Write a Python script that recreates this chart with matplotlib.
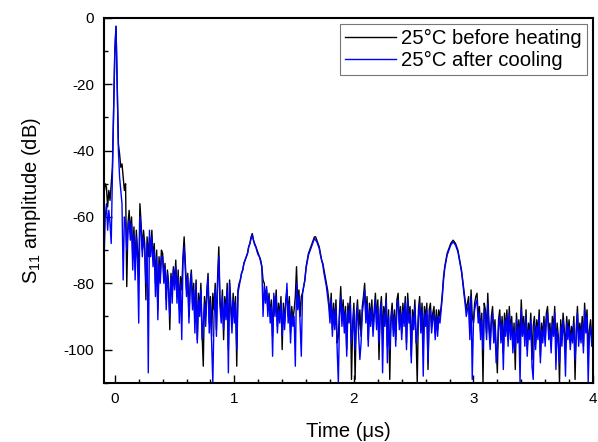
import numpy as np
import matplotlib
matplotlib.use("Agg")
import matplotlib.pyplot as plt
from matplotlib.ticker import MultipleLocator

plt.rcParams['font.family'] = ['Liberation Sans', 'DejaVu Sans']
plt.rcParams['mathtext.fontset'] = 'custom'
plt.rcParams['mathtext.rm'] = 'Liberation Sans'
plt.rcParams['mathtext.it'] = 'Liberation Sans:italic'
plt.rcParams['axes.unicode_minus'] = False

# sampling grid of the time axis (us)
t_start = -0.09
t_step = 0.01

labels = ["25°C before heating", "25°C after cooling"]

# S11 amplitude (dB), 25 C before heating
before_heating = [
    -53, -50, -51, -57, -52, -55, -50, -45, -28,                 # -0.09..-0.01
    -10, -2.5, -20, -38, -41, -45, -44, -48, -52, -50,            # 0.00
    -81, -62, -58, -65, -60, -72, -63, -75, -64, -70,             # 0.10
    -78, -56, -62, -70, -64, -68, -85, -66, -72, -66,             # 0.20
    -70, -64, -73, -68, -80, -70, -88, -72, -78, -70,             # 0.30
    -71, -78, -74, -85, -76, -80, -94, -77, -82, -75,             # 0.40
    -80, -73, -84, -76, -88, -78, -82, -72, -66, -74,             # 0.50
    -82, -77, -90, -80, -76, -86, -80, -92, -79, -97,             # 0.60
    -83, -88, -80, -95, -105, -84, -90, -82, -77, -92,            # 0.70
    -84, -96, -83, -88, -80, -94, -78, -69, -85, -90,             # 0.80
    -82, -97, -84, -89, -80, -100, -79, -86, -92, -83,            # 0.90
    -90, -84, -105, -82, -80, -79, -77, -76, -74, -73,            # 1.00
    -72, -71, -69, -68, -66, -65, -67, -68, -69, -70,             # 1.10
    -71, -72, -73, -75, -79, -80, -84, -82, -88, -83,             # 1.20
    -90, -85, -96, -84, -88, -82, -93, -86, -90, -84,             # 1.30
    -100, -86, -92, -85, -82, -90, -84, -95, -87, -91,            # 1.40
    -88, -84, -75, -86, -82, -90, -84, -83, -81, -79,             # 1.50
    -75, -73, -71, -70, -69, -68, -67, -66, -66, -67,             # 1.60
    -68, -69, -71, -73, -74, -76, -78, -80, -82, -85,             # 1.70
    -90, -83, -94, -86, -92, -85, -98, -96, -88, -81,             # 1.80
    -91, -85, -93, -87, -100, -86, -90, -84, -109, -92,           # 1.90
    -86, -109, -90, -85, -94, -88, -96, -87, -84, -80,            # 2.00
    -90, -84, -97, -86, -91, -85, -94, -88, -83, -92,             # 2.10
    -85, -103, -88, -84, -96, -87, -91, -83, -99, -88,            # 2.20
    -109, -90, -86, -94, -88, -97, -85, -83, -92, -87,            # 2.30
    -95, -86, -91, -84, -98, -83, -90, -87, -102, -88,            # 2.40
    -92, -85, -96, -110, -88, -84, -93, -86, -99, -87,            # 2.50
    -91, -86, -106, -88, -86, -93, -89, -87, -95, -88,            # 2.60
    -94, -88, -90, -87, -83, -78, -75, -73, -71, -70,             # 2.70
    -69, -68, -67.5, -67, -67.5, -68, -69, -70, -72, -74,         # 2.80
    -76, -79, -82, -85, -88, -86, -84, -95, -82, -90,             # 2.90
    -92, -86, -84, -83, -90, -87, -95, -89, -110, -86,            # 3.00
    -88, -95, -83, -92, -98, -90, -87, -96, -91, -99,             # 3.10
    -107, -91, -88, -96, -90, -101, -89, -94, -88, -97,           # 3.20
    -87, -95, -90, -99, -92, -106, -89, -96, -91, -98,            # 3.30
    -85, -94, -90, -97, -88, -100, -92, -95, -89, -103,           # 3.40
    -93, -90, -98, -91, -95, -88, -102, -92, -96, -90,            # 3.50
    -97, -89, -87, -95, -92, -99, -90, -94, -87, -100,            # 3.60
    -92, -96, -110, -91, -97, -89, -94, -100, -90, -95,           # 3.70
    -91, -98, -93, -96, -90, -109, -94, -87, -97, -92,            # 3.80
    -96, -90, -99, -86, -93, -88, -100, -94, -91, -97,            # 3.90
    -94,                                                          # 4.00
]

# S11 amplitude (dB), 25 C after cooling
after_cooling = [
    -73, -60, -56, -64, -58, -62, -68, -47, -28,                 # -0.09..-0.01
    -10, -2.5, -20, -40, -48, -52, -56, -79, -60, -62,            # 0.00
    -70, -64, -61, -67, -62, -76, -65, -79, -66, -73,             # 0.10
    -92, -60, -64, -72, -66, -70, -80, -68, -107, -64,            # 0.20
    -72, -66, -75, -70, -84, -72, -91, -74, -80, -72,             # 0.30
    -72, -80, -75, -88, -77, -82, -90, -78, -86, -76,             # 0.40
    -82, -75, -86, -78, -92, -80, -97, -74, -69, -76,             # 0.50
    -84, -78, -92, -82, -77, -88, -82, -95, -80, -98,             # 0.60
    -85, -90, -82, -97, -92, -86, -93, -84, -78, -95,             # 0.70
    -86, -98, -110, -90, -82, -96, -80, -72, -87, -92,            # 0.80
    -84, -94, -86, -91, -82, -107, -80, -88, -95, -85,            # 0.90
    -92, -86, -100, -83, -81, -79, -77, -76, -74, -73,            # 1.00
    -72, -71, -69, -68, -66.5, -65.5, -67, -68.5, -69, -70.5,     # 1.10
    -71.5, -72, -73.5, -75, -90, -81, -86, -81, -90, -84,         # 1.20
    -92, -87, -102, -83, -90, -84, -95, -88, -92, -86,            # 1.30
    -96, -88, -94, -87, -80, -92, -86, -98, -89, -93,             # 1.40
    -90, -105, -80, -88, -84, -92, -102, -83, -81, -79,           # 1.50
    -75.5, -73.5, -71.5, -70.5, -69.5, -68.5, -67.5, -66.5, -67, -67.5,  # 1.60
    -68.5, -69.5, -71.5, -73, -74.5, -77, -79, -81, -84, -87,     # 1.70
    -92, -85, -96, -88, -94, -87, -100, -110, -90, -84,           # 1.80
    -93, -87, -95, -89, -102, -88, -92, -86, -98, -94,            # 1.90
    -88, -100, -92, -87, -96, -103, -98, -89, -86, -82,           # 2.00
    -92, -86, -99, -88, -93, -87, -96, -90, -85, -94,             # 2.10
    -87, -98, -90, -86, -107, -89, -93, -85, -104, -90,           # 2.20
    -100, -92, -88, -96, -90, -99, -87, -85, -94, -89,            # 2.30
    -97, -88, -93, -86, -100, -85, -92, -89, -104, -90,           # 2.40
    -94, -87, -98, -95, -90, -86, -95, -88, -108, -89,            # 2.50
    -93, -88, -104, -90, -88, -95, -91, -89, -97, -90,            # 2.60
    -96, -90, -92, -88, -84, -79, -75.5, -73.5, -71.5, -70.5,     # 2.70
    -69.5, -68.5, -68, -67.5, -68, -68.5, -69.5, -70.5, -72.5, -74.5,  # 2.80
    -76.5, -79.5, -83, -86, -90, -88, -86, -97, -84, -109,        # 2.90
    -92, -88, -86, -85, -92, -89, -97, -91, -100, -88,            # 3.00
    -90, -97, -86, -94, -100, -92, -89, -98, -93, -104,           # 3.10
    -100, -93, -90, -98, -92, -106, -91, -96, -90, -99,           # 3.20
    -89, -97, -92, -101, -94, -100, -91, -98, -93, -110,          # 3.30
    -88, -96, -92, -99, -90, -102, -94, -97, -91, -105,           # 3.40
    -109, -92, -100, -93, -97, -90, -104, -94, -98, -92,          # 3.50
    -99, -91, -89, -97, -94, -101, -92, -96, -89, -106,           # 3.60
    -94, -98, -104, -93, -99, -91, -96, -108, -92, -97,           # 3.70
    -93, -100, -95, -98, -92, -103, -96, -89, -99, -94,           # 3.80
    -98, -92, -101, -88, -95, -90, -110, -96, -93, -99,           # 3.90
    -95,                                                          # 4.00
]

t_before = t_start + t_step * np.arange(len(before_heating))
t_after = t_start + t_step * np.arange(len(after_cooling))

fig = plt.figure(figsize=(5.98, 4.42), dpi=100)
ax = fig.add_axes([0.174, 0.134, 0.8176, 0.8253])

ax.plot(t_before, before_heating, color='black', lw=1.0, label=labels[0])
ax.plot(t_after, after_cooling, color='#0000ff', lw=1.0, label=labels[1])

ax.set_xlim(-0.09, 4.0)
ax.set_ylim(-110, 0)
ax.xaxis.set_major_locator(MultipleLocator(1))
ax.xaxis.set_minor_locator(MultipleLocator(0.2))
ax.yaxis.set_major_locator(MultipleLocator(20))
ax.yaxis.set_minor_locator(MultipleLocator(10))
ax.tick_params(which='both', direction='in', top=False, right=False,
               labelsize=11, pad=7, width=1.0)
ax.tick_params(which='major', length=6)
ax.tick_params(which='minor', length=3)
for s in ax.spines.values():
    s.set_linewidth(1.5)

ax.set_xlabel('Time (\u03bcs)', fontsize=14.5, labelpad=11)
ax.set_ylabel('S$_{\\mathrm{11}}$ amplitude (dB)', fontsize=14.5, labelpad=15)

leg = ax.legend(loc='upper right', fontsize=14.6, frameon=True, fancybox=False,
                edgecolor='#555555', handlelength=2.5, handletextpad=0.25,
                labelspacing=0.15, borderpad=0.25, borderaxespad=0.3)
leg.get_frame().set_linewidth(0.8)

fig.savefig('out.png', dpi=100)
